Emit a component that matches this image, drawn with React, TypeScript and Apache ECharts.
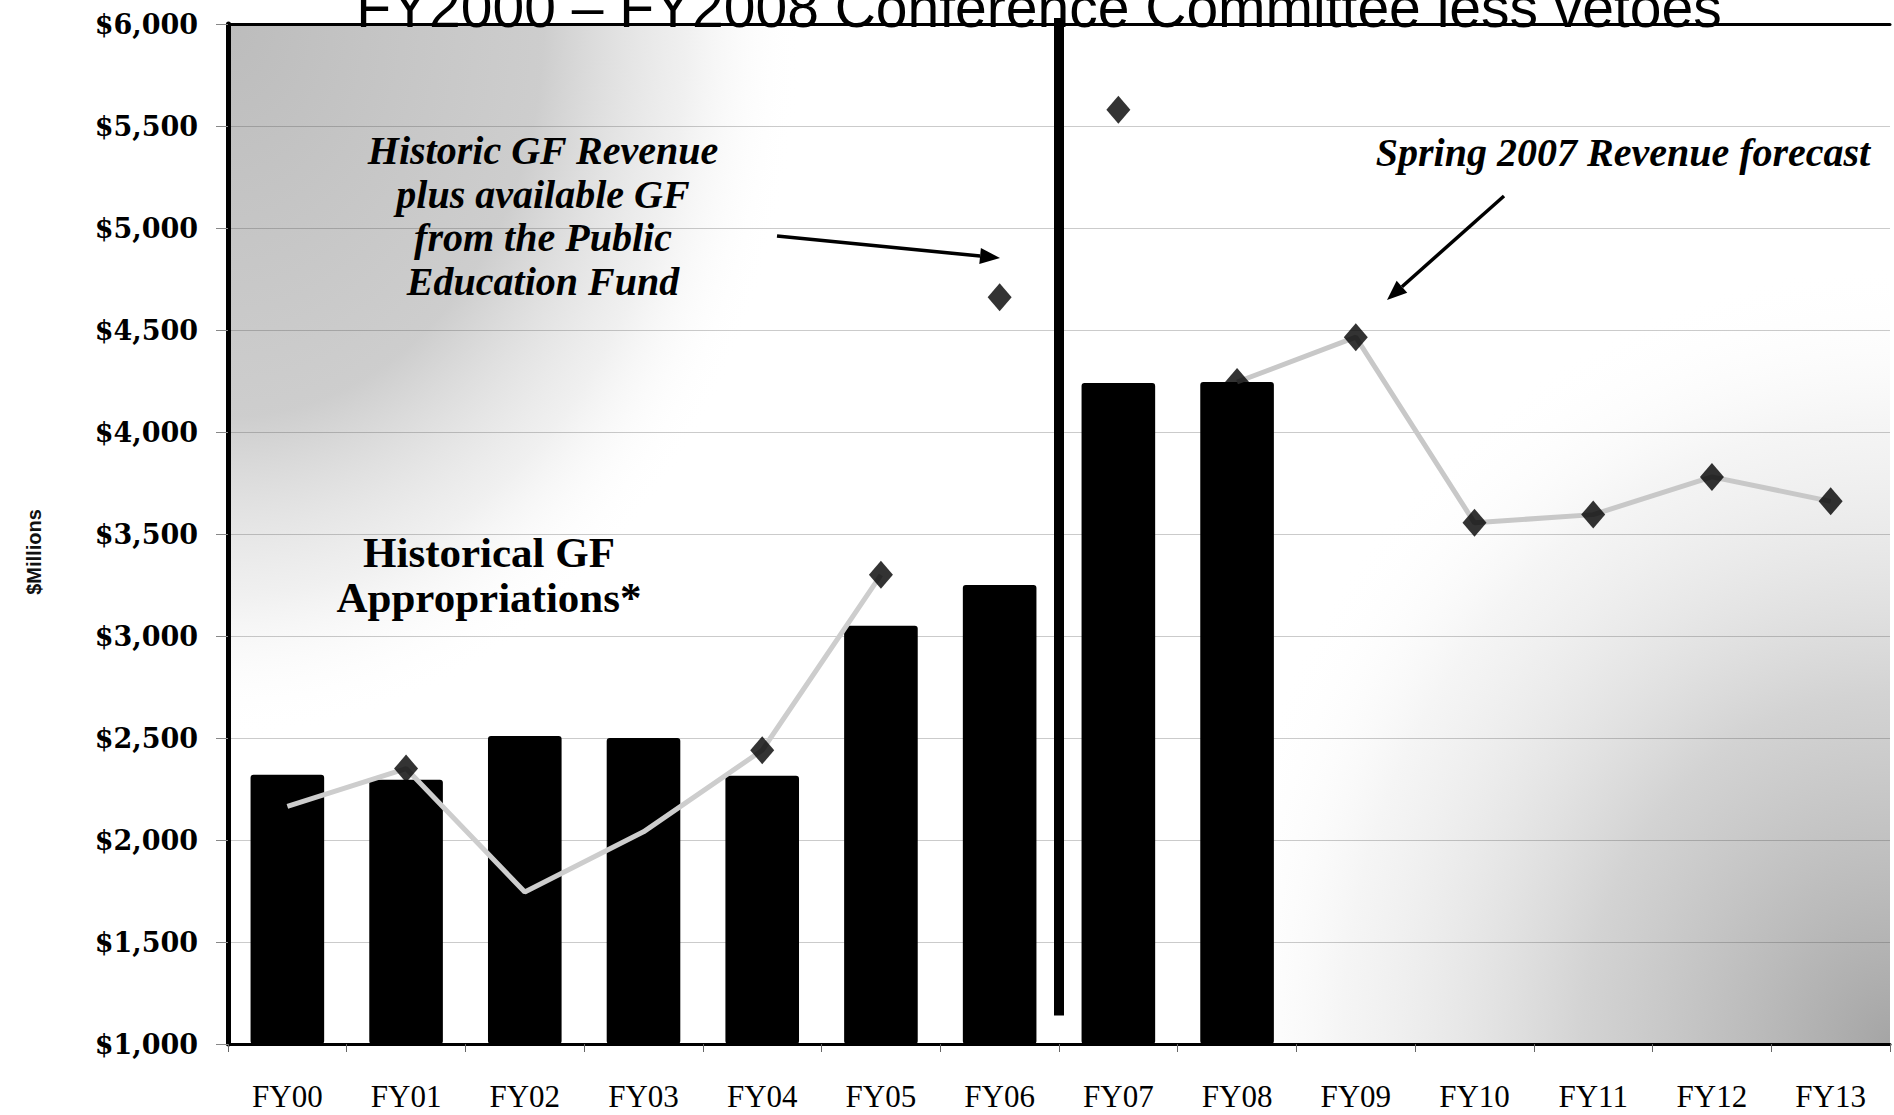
import React, { useEffect, useRef } from "react";
import * as echarts from "echarts";

// ---- data ----
const categories = ["FY00", "FY01", "FY02", "FY03", "FY04", "FY05", "FY06", "FY07", "FY08", "FY09", "FY10", "FY11", "FY12", "FY13"];
const appropriations: (number | null)[] = [2320, 2295, 2510, 2500, 2315, 3050, 3250, 4240, 4245, null, null, null, null, null];
const revenue = [2165, 2350, 1745, 2040, 2440, 3300, 4660, 5580, 4245, 4465, 3555, 3595, 3780, 3660];
const hiddenMarkers = ["FY00", "FY02", "FY03"];
const historicLineEnd = "FY05";
const forecastLineStart = "FY08";
const yMin = 1000;
const yMax = 6000;
const yInterval = 500;
const dividerAfter = "FY06";
const dividerBottomValue = 1140;

const titleText = "FY2000 \u2013 FY2008 Conference Committee less vetoes";
const yAxisTitle = "$Millions";
const noteRevenue = "Historic GF Revenue\nplus available GF\nfrom the Public\nEducation Fund";
const noteApprop = "Historical GF\nAppropriations*";
const noteForecast = "Spring 2007 Revenue forecast";

const W = 1894;
const H = 1115;
const GRID = { left: 228, right: 4, top: 24, bottom: 71 };

function arrow(x1: number, y1: number, x2: number, y2: number) {
  const ang = Math.atan2(y2 - y1, x2 - x1);
  const len = 20;
  const half = 8;
  const bx = x2 - len * Math.cos(ang);
  const by = y2 - len * Math.sin(ang);
  const px = -Math.sin(ang);
  const py = Math.cos(ang);
  return [
    {
      type: "line",
      z: 100,
      shape: { x1, y1, x2: bx, y2: by },
      style: { stroke: "#000", lineWidth: 3.5 },
    },
    {
      type: "polygon",
      z: 100,
      shape: {
        points: [
          [x2, y2],
          [bx + px * half, by + py * half],
          [bx - px * half, by - py * half],
        ],
      },
      style: { fill: "#000" },
    },
  ];
}

export default function App() {
  const ref = useRef<HTMLDivElement>(null);
  useEffect(() => {
    document.body.style.margin = "0";
    const chart = echarts.init(ref.current!, undefined, { renderer: "svg" });
    const endIdx = categories.indexOf(historicLineEnd);
    const startIdx = categories.indexOf(forecastLineStart);
    const option: any = {
      animation: false,
      backgroundColor: "#fff",
      grid: { left: GRID.left, right: GRID.right, top: GRID.top, bottom: GRID.bottom, containLabel: false },
      xAxis: [
        {
          type: "category",
          data: categories,
          axisLine: { lineStyle: { color: "#000", width: 3 } },
          axisTick: { show: true, length: 8, lineStyle: { color: "#666", width: 1 } },
          axisLabel: {
            color: "#000",
            fontFamily: "Liberation Serif",
            fontSize: 31,
            margin: 37,
          },
        },
        {
          type: "category",
          position: "top",
          data: categories,
          axisLine: { show: true, onZero: false, lineStyle: { color: "#000", width: 3 } },
          axisTick: { show: false },
          axisLabel: { show: false },
        },
      ],
      yAxis: {
        type: "value",
        min: yMin,
        max: yMax,
        interval: yInterval,
        axisLine: { show: true, lineStyle: { color: "#000", width: 5 } },
        axisTick: { show: true, length: 12, lineStyle: { color: "#888", width: 1 } },
        splitLine: { show: true, lineStyle: { color: "rgba(70,70,70,0.28)", width: 1 } },
        axisLabel: {
          color: "#000",
          fontFamily: "DejaVu Serif",
          fontWeight: "bold",
          fontSize: 27,
          margin: 30,
          formatter: (v: number) => "$" + v.toLocaleString("en-US"),
        },
      },
      series: [
        {
          name: "Historical GF Appropriations",
          type: "bar",
          data: appropriations.map((v) => (v == null ? "-" : v)),
          barCategoryGap: "38%",
          itemStyle: { color: "#000", borderRadius: 3 },
          z: 2,
        },
        {
          name: "Revenue line (historic)",
          type: "line",
          data: revenue.map((v, i) => (i <= endIdx ? v : "-")),
          symbol: "none",
          lineStyle: { color: "#cdcdcd", width: 5 },
          z: 3,
        },
        {
          name: "Revenue line (forecast)",
          type: "line",
          data: revenue.map((v, i) => (i >= startIdx ? v : "-")),
          symbol: "none",
          lineStyle: { color: "#c8c8c8", width: 5 },
          z: 3,
        },
        {
          name: "Historic GF Revenue",
          type: "scatter",
          data: revenue.map((v, i) =>
            hiddenMarkers.includes(categories[i]) ? { value: v, symbol: "none" } : v
          ),
          symbol: "diamond",
          symbolSize: [24, 28],
          itemStyle: { color: "#000" },
          z: 4,
        },
      ],
    };
    chart.setOption(option);

    const xa = chart.convertToPixel({ xAxisIndex: 0 }, dividerAfter) as number;
    const xb = chart.convertToPixel({ xAxisIndex: 0 }, categories[categories.indexOf(dividerAfter) + 1]) as number;
    const divX = (xa + xb) / 2;
    const yTop = chart.convertToPixel({ yAxisIndex: 0 }, yMax) as number;
    const yBot = chart.convertToPixel({ yAxisIndex: 0 }, dividerBottomValue) as number;

    const gx = GRID.left;
    const gy = GRID.top;
    const gw = W - GRID.left - GRID.right;
    const gh = H - GRID.top - GRID.bottom;

    const elements: any[] = [
      {
        type: "rect",
        z: -10,
        silent: true,
        shape: { x: gx, y: gy, width: 820, height: gh },
        style: {
          fill: {
            type: "radial",
            x: 0,
            y: 0,
            r: 0.7,
            colorStops: [
              { offset: 0, color: "rgba(188,188,188,1)" },
              { offset: 0.55, color: "rgba(200,200,200,0.9)" },
              { offset: 0.8, color: "rgba(225,225,225,0.5)" },
              { offset: 1, color: "rgba(255,255,255,0)" },
            ],
          },
        },
      },
      {
        type: "rect",
        z: -10,
        silent: true,
        shape: { x: gx + gw - 720, y: gy + gh - 820, width: 720, height: 820 },
        style: {
          fill: {
            type: "radial",
            x: 1,
            y: 1,
            r: 0.95,
            colorStops: [
              { offset: 0, color: "rgba(165,165,165,1)" },
              { offset: 0.45, color: "rgba(200,200,200,0.8)" },
              { offset: 0.8, color: "rgba(230,230,230,0.4)" },
              { offset: 1, color: "rgba(255,255,255,0)" },
            ],
          },
        },
      },
      {
        type: "rect",
        z: 50,
        shape: { x: divX - 5, y: yTop - 6, width: 10, height: yBot - yTop + 6 },
        style: { fill: "#000" },
      },
      {
        type: "text",
        z: 100,
        x: 1039,
        y: 7,
        style: {
          text: titleText,
          fontFamily: "Liberation Sans",
          fontSize: 57,
          fill: "#000",
          align: "center",
          verticalAlign: "middle",
        },
      },
      {
        type: "text",
        z: 100,
        x: 34,
        y: 552,
        rotation: Math.PI / 2,
        style: {
          text: yAxisTitle,
          fontFamily: "Liberation Sans",
          fontWeight: "bold",
          fontSize: 20,
          fill: "#111",
          align: "center",
          verticalAlign: "middle",
        },
      },
      {
        type: "text",
        z: 100,
        x: 543,
        y: 216,
        style: {
          text: noteRevenue,
          fontFamily: "Liberation Serif",
          fontStyle: "italic",
          fontWeight: "bold",
          fontSize: 40,
          lineHeight: 43.5,
          fill: "#000",
          align: "center",
          verticalAlign: "middle",
        },
      },
      {
        type: "text",
        z: 100,
        x: 489,
        y: 575,
        style: {
          text: noteApprop,
          fontFamily: "Liberation Serif",
          fontWeight: "bold",
          fontSize: 43,
          lineHeight: 45,
          fill: "#000",
          align: "center",
          verticalAlign: "middle",
        },
      },
      {
        type: "text",
        z: 100,
        x: 1623,
        y: 152,
        style: {
          text: noteForecast,
          fontFamily: "Liberation Serif",
          fontStyle: "italic",
          fontWeight: "bold",
          fontSize: 40,
          fill: "#000",
          align: "center",
          verticalAlign: "middle",
        },
      },
      ...arrow(777, 236, 1000, 258),
      ...arrow(1504, 196, 1387, 300),
    ];
    chart.setOption({ graphic: { elements } });

    return () => chart.dispose();
  }, []);
  return (
    <div
      ref={ref}
      style={{ position: "fixed", left: 0, top: 0, width: W, height: H }}
    />
  );
}
